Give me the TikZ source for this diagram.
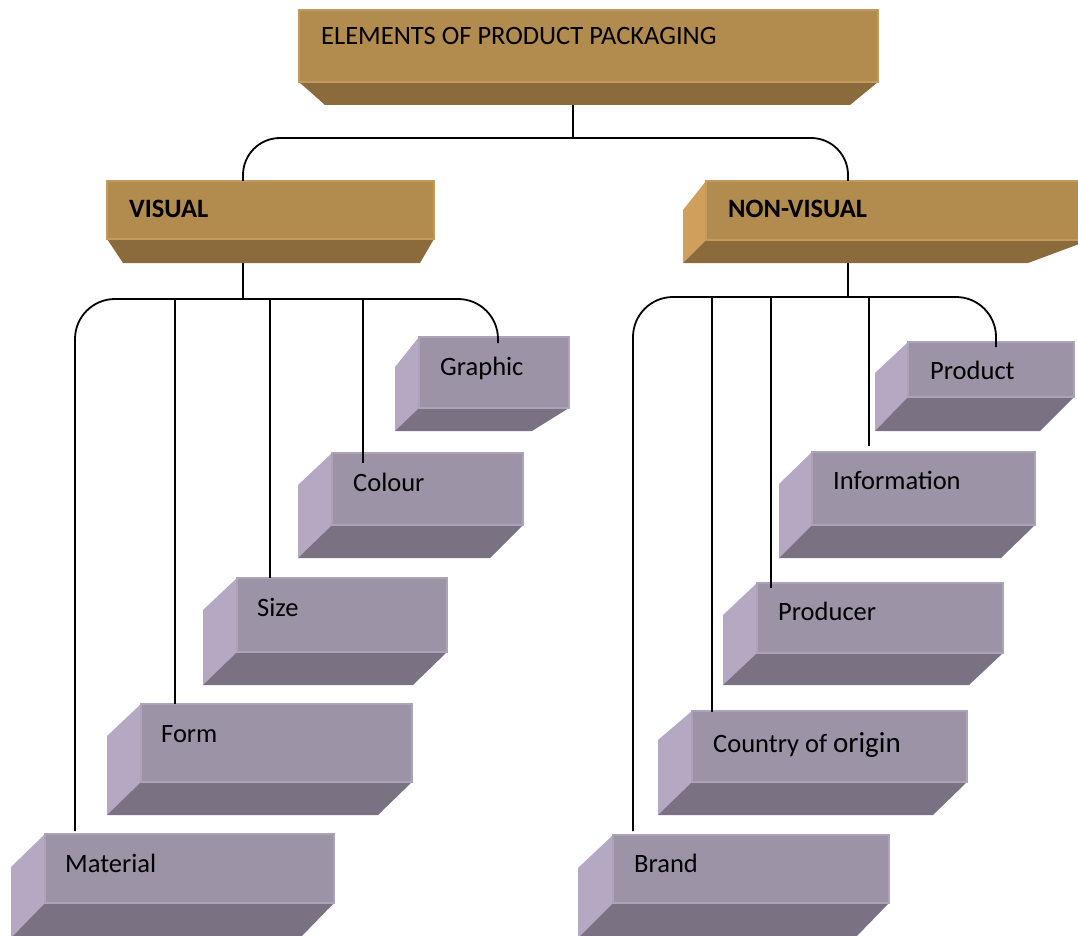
\documentclass[tikz,border=0pt]{standalone}
\usepackage{fontspec}
\setmainfont{Carlito}
\usetikzlibrary{fit}

\definecolor{goldfront}{HTML}{B28B4F}
\definecolor{goldbottom}{HTML}{8B6B3C}
\definecolor{goldside}{HTML}{D09F5C}
\definecolor{goldedge}{HTML}{C29A5C}
\definecolor{lilacfront}{HTML}{9C93A7}
\definecolor{lilacside}{HTML}{B4A8C3}
\definecolor{lilacbottom}{HTML}{7A7282}
\definecolor{lilacedge}{HTML}{ADA3B8}

% Extruded box: front face (#2,#3)-(#4,#5), left face back edge at x=#6
% starting at y=#7, bottom back edge at y=#8 ending at x=#9
\newcommand\lilacbox[9]{%
  \fill[lilacside] (#2,#3) -- (#6,#7) -- (#6,#8) -- (#2,#5) -- cycle;
  \fill[lilacbottom] (#2,#5) -- (#4,#5) -- (#9,#8) -- (#6,#8) -- cycle;
  \node[frontface, fill=lilacfront, draw=lilacedge, fit={(#2,#3) (#4,#5)}] (#1) {};
}

\begin{document}
\begin{tikzpicture}[x=1pt, y=-1pt,
  frontface/.style={inner sep=0pt, outer sep=0pt, line width=1.2pt},
  label/.style={anchor=base west, inner sep=0pt, font=\fontsize{26.5}{30}\selectfont},
  headlabel/.style={label, font=\fontsize{26.5}{30}\selectfont\bfseries},
  link/.style={draw=black, line width=1.8pt}]
\useasboundingbox (0,0) rectangle (1078,936);

% ---- title box ----
\fill[goldbottom] (299,82) -- (878,82) -- (850,105) -- (325,105) -- cycle;
\node[frontface, fill=goldfront, draw=goldedge, fit={(299,10) (878,82)}] (title) {};
\node[label] (title-text) at (321,45) {ELEMENTS OF PRODUCT PACKAGING};

% ---- VISUAL box ----
\fill[goldbottom] (107,239) -- (434,239) -- (420,263) -- (123,263) -- cycle;
\node[frontface, fill=goldfront, draw=goldedge, fit={(107,181) (434,239)}] (visual) {};
\node[headlabel] (visual-text) at (129,218) {VISUAL};

% ---- NON-VISUAL box ----
\fill[goldside] (706,181) -- (683,210) -- (683,263) -- (706,240) -- cycle;
\fill[goldbottom] (706,240) -- (1090,240) -- (1028,263) -- (683,263) -- cycle;
\node[frontface, fill=goldfront, draw=goldedge, fit={(706,181) (1090,240)}] (nonvisual) {};
\node[headlabel] (nonvisual-text) at (728,218) {NON-VISUAL};

% ---- visual elements ----
\lilacbox{graphic}{419}{337}{569}{408}{395}{367}{431}{532}
\node[label] (graphic-text) at (440,375) {Graphic};
\lilacbox{colour}{332}{453}{523}{525}{298}{485}{558}{490}
\node[label] (colour-text) at (353,491) {Colour};
\lilacbox{size}{237}{578}{447}{652}{203}{610}{685}{413}
\node[label] (size-text) at (257,616) {Size};
\lilacbox{form}{141}{704}{412}{782}{107}{736}{815}{378}
\node[label] (form-text) at (161,742) {Form};
\lilacbox{material}{45}{834}{334}{903}{11}{867}{938}{300}
\node[label] (material-text) at (65,872) {Material};

% ---- non-visual elements ----
\lilacbox{product}{908}{342}{1074}{397}{875}{373}{431}{1040}
\node[label] (product-text) at (930,379) {Product};
\lilacbox{information}{812}{452}{1035}{525}{779}{484}{558}{1001}
\node[label] (information-text) at (833,489) {Information};
\lilacbox{producer}{757}{583}{1003}{653}{723}{615}{685}{969}
\node[label] (producer-text) at (778,620) {Producer};
\lilacbox{country}{692}{711}{967}{782}{658}{740}{815}{933}
\node[label] (country-text) at (713,752) {Country of \fontsize{29}{32}\selectfont origin};
\lilacbox{brand}{613}{835}{889}{903}{578}{868}{938}{855}
\node[label] (brand-text) at (634,872) {Brand};

% ---- connector attachment points ----
\coordinate (title-out) at (573,105);
\coordinate (title-join) at (573,138);
\coordinate (visual-in) at (243,181);
\coordinate (nonvisual-in) at (848,181);

\coordinate (visual-out) at (243,263);
\coordinate (visual-join) at (243,299);
\coordinate (material-in) at (75,831);
\coordinate (form-in) at (175,704);
\coordinate (size-in) at (270,578);
\coordinate (colour-in) at (363,463);
\coordinate (graphic-in) at (498,343);

\coordinate (nonvisual-out) at (848,263);
\coordinate (nonvisual-join) at (848,297);
\coordinate (brand-in) at (633,831);
\coordinate (country-in) at (712,712);
\coordinate (producer-in) at (771,588);
\coordinate (information-in) at (869,446);
\coordinate (product-in) at (996,347);

% ---- connectors ----
\draw[link] (title-out) -- (title-join);
\draw[link, rounded corners=37pt] (visual-in) |- (title-join) -| (nonvisual-in);

\draw[link] (visual-out) -- (visual-join);
\draw[link, rounded corners=40pt] (material-in) |- (visual-join) -| (graphic-in);
\draw[link] (form-in |- visual-join) -- (form-in);
\draw[link] (size-in |- visual-join) -- (size-in);
\draw[link] (colour-in |- visual-join) -- (colour-in);

\draw[link] (nonvisual-out) -- (nonvisual-join);
\draw[link, rounded corners=40pt] (brand-in) |- (nonvisual-join) -| (product-in);
\draw[link] (country-in |- nonvisual-join) -- (country-in);
\draw[link] (producer-in |- nonvisual-join) -- (producer-in);
\draw[link] (information-in |- nonvisual-join) -- (information-in);
\end{tikzpicture}
\end{document}
